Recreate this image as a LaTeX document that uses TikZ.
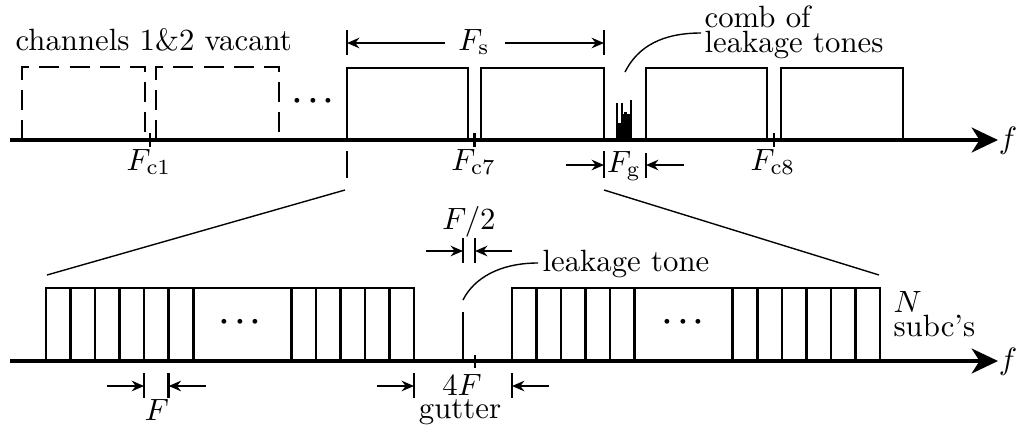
\documentclass[tikz,border=0pt]{standalone}
\usepackage{bm}
\usetikzlibrary{arrows.meta}
\begin{document}
\begin{tikzpicture}[x=0.325pt,y=-0.325pt,
  axis/.style={line width=1.6pt,-{Stealth[length=8.5pt,width=8pt,inset=2.5pt]}},
  chan/.style={line width=0.85pt},
  vac/.style={line width=0.85pt,dash pattern=on 6.5pt off 3.3pt},
  dimarrow/.style={line width=0.8pt,-{Stealth[length=4pt,width=3.4pt]}},
  bar/.style={line width=0.85pt},
  thinline/.style={line width=0.45pt},
  lbl/.style={inner sep=0pt,font=\fontsize{10}{12}\selectfont}]
\useasboundingbox (0,0) rectangle (1023,425);
% ---------- top axis ----------
\coordinate (ta0) at (10,140);
\coordinate (ta1) at (998,140);
\draw[axis] (ta0) -- (ta1);
\node[lbl] (tf) at (1008,141) {$f$};
% vacant channels
\draw[vac] (22,140) |- (145,67) -- (145,140);
\draw[vac] (156,140) |- (279,67) -- (279,140);
\node[lbl,anchor=base west] (vac) at (15,50) {channels 1\&2 vacant};
\node[lbl] (tdots) at (313,101) {$\bm{\cdots}$};
% occupied channels
\draw[chan] (347,140) |- (468,68) -- (468,140);
\draw[chan] (481,140) |- (604,68) -- (604,140);
\draw[chan] (646,140) |- (767,68) -- (767,140);
\draw[chan] (781,140) |- (903,68) -- (903,140);
% centre ticks
\foreach \x/\n/\c in {150/c1/1,474.7/c7/7,774/c8/8}{
  \draw[bar] (\x,133) -- (\x,147);
  \node[lbl] (l\n) at (\x-1,162) {$F_{\mathrm{c}\c}$};
}
% comb of leakage tones
\fill (616,140) rectangle (632.3,123);
\fill (616,123) rectangle (618.3,103);
\fill (621,123) rectangle (623,102.7);
\fill (623,123) rectangle (630,114);
\fill (624,114) rectangle (626.5,111.5);
\fill (630,123) rectangle (632.3,100);
\coordinate (combtop) at (625,72);
\node[lbl,anchor=base west] (comb1) at (704,27) {comb of};
\node[lbl,anchor=base west] (comb2) at (704,52) {leakage tones};
\coordinate (combend) at (701,33);
\draw[thinline] (combtop) .. controls (638,46) and (663,33) .. (combend);
% F_s dimension
\draw[bar] (347,30) -- (347,55);
\draw[bar] (604,30) -- (604,55);
\node[lbl] (Fs) at (474,42) {$F_{\mathrm{s}}$};
\draw[dimarrow] (445,43) -- (347,43);
\draw[dimarrow] (505,43) -- (604,43);
% F_g dimension
\draw[bar] (347,151) -- (347,178);
\draw[bar] (604,151) -- (604,178);
\draw[bar] (646,153) -- (646,178);
\node[lbl] (Fg) at (624,166) {$F_{\mathrm{g}}$};
\draw[dimarrow] (566,165) -- (604,165);
\draw[dimarrow] (684,165) -- (646,165);
% zoom lines
\coordinate (zl0) at (345,190);
\coordinate (zl1) at (47,275);
\coordinate (zr0) at (604,190);
\coordinate (zr1) at (879,275);
\draw[thinline] (zl0) -- (zl1);
\draw[thinline] (zr0) -- (zr1);
% ---------- bottom axis ----------
\coordinate (ba0) at (10,361);
\coordinate (ba1) at (998,361);
\draw[axis] (ba0) -- (ba1);
\node[lbl] (bf) at (1008,362) {$f$};
% left subcarrier group
\draw[chan] (46,361) |- (414,288) -- (414,361);
\foreach \k in {1,...,6,10,11,12,13,14}{
  \draw[chan] ({46+24.533*\k},288) -- ({46+24.533*\k},361);
}
\node[lbl] (ldots) at (240,322) {$\bm{\cdots}$};
% right subcarrier group
\draw[chan] (512,361) |- (880,288) -- (880,361);
\foreach \k in {1,...,5,9,10,11,12,13,14}{
  \draw[chan] ({512+24.533*\k},288) -- ({512+24.533*\k},361);
}
\node[lbl] (rdots) at (683,322) {$\bm{\cdots}$};
\node[lbl,anchor=base west] (Nl) at (893,312) {$N$};
\node[lbl,anchor=base west] (subc) at (893,336) {subc's};
% leakage tone
\draw[chan] (463,312) -- (463,361);
\draw[bar] (475,355) -- (475,368);
\coordinate (ltop) at (463,300);
\coordinate (lend) at (538,263);
\draw[thinline] (ltop) .. controls (474,278) and (500,263) .. (lend);
\node[lbl,anchor=west] (lt) at (542,264) {leakage tone};
% F/2 dimension
\draw[bar] (463,238) -- (463,263);
\draw[bar] (475,238) -- (475,263);
\node[lbl] (Fh) at (469,222) {$F/2$};
\draw[dimarrow] (426,251) -- (463,251);
\draw[dimarrow] (512,251) -- (475,251);
% F dimension
\draw[bar] (144.1,373) -- (144.1,398);
\draw[bar] (168.7,373) -- (168.7,398);
\draw[dimarrow] (107,386) -- (144.1,386);
\draw[dimarrow] (206,386) -- (168.7,386);
\node[lbl] (Fl) at (157,410) {$F$};
% gutter dimension
\draw[bar] (414,373) -- (414,398);
\draw[bar] (512,373) -- (512,398);
\draw[dimarrow] (377,386) -- (414,386);
\draw[dimarrow] (549,386) -- (512,386);
\node[lbl,anchor=base] (FF) at (462,395) {$4F$};
\node[lbl,anchor=base] (gut) at (460,418) {gutter};
\end{tikzpicture}
\end{document}
